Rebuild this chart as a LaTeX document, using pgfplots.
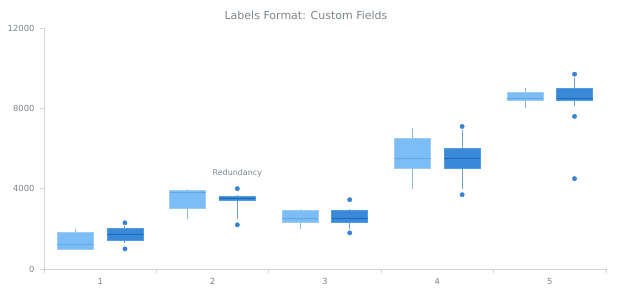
\documentclass[border=0pt]{standalone}
\usepackage{fontspec}
\setmainfont{DejaVu Sans}
\usepackage{pgfplots}
\pgfplotsset{compat=1.18}
\usepgfplotslibrary{statistics}
\definecolor{lightbox}{HTML}{7DBDF5}
\definecolor{lightedge}{HTML}{9ACCF7}
\definecolor{lightmed}{HTML}{62A5E0}
\definecolor{lightwhisk}{HTML}{8DB7DC}
\definecolor{darkbox}{HTML}{3A88D8}
\definecolor{darkedge}{HTML}{4E9BE6}
\definecolor{darkmed}{HTML}{1F69BD}
\definecolor{darkwhisk}{HTML}{6C9DD1}
\definecolor{darkdot}{HTML}{3A82D2}
\definecolor{txt}{HTML}{7C868E}
\definecolor{axln}{HTML}{D0D4D8}
\pgfplotsset{
  lightS/.style={
    boxplot/draw direction=y,
    boxplot/whisker extend=0,
    boxplot/box extend=0.32,
    boxplot/every box/.style={draw=lightedge, fill=lightbox, line width=0.8pt},
    boxplot/every whisker/.style={draw=lightwhisk, line width=1.1pt},
    boxplot/every median/.style={draw=lightmed, line width=1pt},
    mark=*, mark size=2.2pt, mark options={draw=lightbox, fill=lightbox}},
  darkS/.style={
    boxplot/draw direction=y,
    boxplot/whisker extend=0,
    boxplot/box extend=0.32,
    boxplot/every box/.style={draw=darkedge, fill=darkbox, line width=0.8pt},
    boxplot/every whisker/.style={draw=darkwhisk, line width=1.1pt},
    boxplot/every median/.style={draw=darkmed, line width=1pt},
    mark=*, mark size=2.2pt, mark options={draw=darkdot, fill=darkdot}},
}
\begin{document}
\begin{tikzpicture}
\begin{axis}[
  scale only axis, width=562pt, height=241pt,
  xmin=0.5, xmax=5.5, ymin=0, ymax=12000,
  axis x line*=bottom, axis y line*=left,
  axis line style={draw=axln, line width=0.8pt},
  xtick={0.5,1.5,...,5.5}, xticklabels={},
  extra x ticks={1,2,3,4,5},
  extra x tick style={major tick length=0pt, xticklabel style={yshift=-6pt}},
  ytick={0,4000,8000,12000},
  tick align=outside, major tick length=4pt,
  tick style={draw=axln, line width=0.8pt},
  scaled y ticks=false,
  yticklabel style={/pgf/number format/1000 sep={}, xshift=-2pt},
  /pgf/number format/assume math mode=true,
  ticklabel style={font=\fontsize{8.4}{9}\selectfont, text=txt},
  clip=false,
]
% series 1 (light)
\addplot[lightS, boxplot prepared={draw position=0.78, lower whisker=1000, lower quartile=1000, median=1200, upper quartile=1800, upper whisker=2000}] coordinates {};
\addplot[lightS, boxplot prepared={draw position=1.78, lower whisker=2500, lower quartile=3000, median=3800, upper quartile=3900, upper whisker=4000}] coordinates {};
\addplot[lightS, boxplot prepared={draw position=2.78, lower whisker=2000, lower quartile=2300, median=2500, upper quartile=2900, upper whisker=3000}] coordinates {};
\addplot[lightS, boxplot prepared={draw position=3.78, lower whisker=4000, lower quartile=5000, median=5500, upper quartile=6500, upper whisker=7000}] coordinates {};
\addplot[lightS, boxplot prepared={draw position=4.78, lower whisker=8000, lower quartile=8400, median=8500, upper quartile=8800, upper whisker=9000}] coordinates {};
% series 2 (dark)
\addplot[darkS, boxplot prepared={draw position=1.22, lower whisker=1300, lower quartile=1400, median=1700, upper quartile=2000, upper whisker=2150}] table[row sep=\\, y index=0] {2300\\1000\\};
\addplot[darkS, boxplot prepared={draw position=2.22, lower whisker=2500, lower quartile=3400, median=3500, upper quartile=3600, upper whisker=3700}] table[row sep=\\, y index=0] {4000\\2200\\};
\addplot[darkS, boxplot prepared={draw position=3.22, lower whisker=2000, lower quartile=2300, median=2500, upper quartile=2900, upper whisker=3000}] table[row sep=\\, y index=0] {3450\\1800\\};
\addplot[darkS, boxplot prepared={draw position=4.22, lower whisker=4000, lower quartile=5000, median=5500, upper quartile=6000, upper whisker=6900}] table[row sep=\\, y index=0] {7100\\3700\\};
\addplot[darkS, boxplot prepared={draw position=5.22, lower whisker=8100, lower quartile=8400, median=8500, upper quartile=9000, upper whisker=9500}] table[row sep=\\, y index=0] {9700\\7600\\4500\\};
\node[text=txt, font=\fontsize{8}{9}\selectfont] at (axis cs:2.22,4750) {Redundancy};
\end{axis}
\node[text=txt, font=\fontsize{11}{13}\selectfont] at (262pt,254pt) {Labels Format: Custom Fields};
\pgfresetboundingbox
\path[use as bounding box] (-44pt,-31pt) rectangle (576pt,269pt);
\end{tikzpicture}
\end{document}
